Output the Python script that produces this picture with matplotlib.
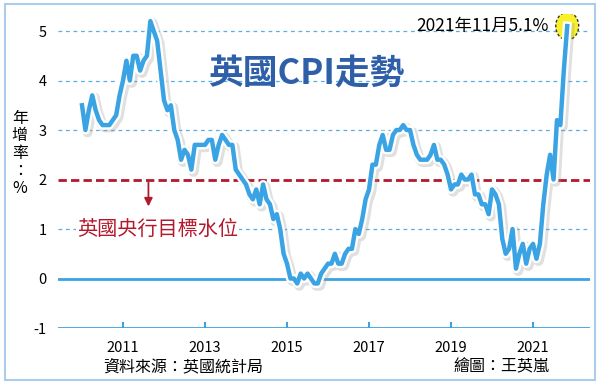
import matplotlib.pyplot as plt
import matplotlib.patheffects as pe
from matplotlib.patches import Circle, Rectangle
import numpy as np

plt.rcParams['font.family'] = ['Noto Sans CJK TC', 'DejaVu Sans']

# 英國CPI年增率（%），2010年1月至2021年11月，逐月
cpi_2010 = [3.5, 3.0, 3.4, 3.7, 3.4, 3.2, 3.1, 3.1, 3.1, 3.2, 3.3, 3.7]
cpi_2011 = [4.0, 4.4, 4.0, 4.5, 4.5, 4.2, 4.4, 4.5, 5.2, 5.0, 4.8, 4.2]
cpi_2012 = [3.6, 3.4, 3.5, 3.0, 2.8, 2.4, 2.6, 2.5, 2.2, 2.7, 2.7, 2.7]
cpi_2013 = [2.7, 2.8, 2.8, 2.4, 2.7, 2.9, 2.8, 2.7, 2.7, 2.2, 2.1, 2.0]
cpi_2014 = [1.9, 1.7, 1.6, 1.8, 1.5, 1.9, 1.6, 1.5, 1.2, 1.3, 1.0, 0.5]
cpi_2015 = [0.3, 0.0, 0.0, -0.1, 0.1, 0.0, 0.1, 0.0, -0.1, -0.1, 0.1, 0.2]
cpi_2016 = [0.3, 0.3, 0.5, 0.3, 0.3, 0.5, 0.6, 0.6, 1.0, 0.9, 1.2, 1.6]
cpi_2017 = [1.8, 2.3, 2.3, 2.7, 2.9, 2.6, 2.6, 2.9, 3.0, 3.0, 3.1, 3.0]
cpi_2018 = [3.0, 2.7, 2.5, 2.4, 2.4, 2.4, 2.5, 2.7, 2.4, 2.4, 2.3, 2.1]
cpi_2019 = [1.8, 1.9, 1.9, 2.1, 2.0, 2.0, 2.1, 1.7, 1.7, 1.5, 1.5, 1.3]
cpi_2020 = [1.8, 1.7, 1.5, 0.8, 0.5, 0.6, 1.0, 0.2, 0.5, 0.7, 0.3, 0.6]
cpi_2021 = [0.7, 0.4, 0.7, 1.5, 2.1, 2.5, 2.0, 3.2, 3.1, 4.2, 5.1]

cpi = (cpi_2010 + cpi_2011 + cpi_2012 + cpi_2013 + cpi_2014 + cpi_2015
       + cpi_2016 + cpi_2017 + cpi_2018 + cpi_2019 + cpi_2020 + cpi_2021)
start_year = 2010
x_ticks = [2011, 2013, 2015, 2017, 2019, 2021]
y_ticks = [-1, 0, 1, 2, 3, 4, 5]
target = 2

blue = '#3aa3e3'
grid_blue = '#5aaee0'
red = '#b3182d'

x = start_year + np.arange(len(cpi)) / 12.0

fig = plt.figure(figsize=(6, 3.84), dpi=100)
ax = fig.add_axes([0.0967, 0.1458, 0.8867, 0.8185])
ax.set_xlim(2009.415, 2022.39)
ax.set_ylim(-1, 5.35)

# 外框
fig.patches.append(Rectangle((0.008, 0.01), 0.984, 0.98, transform=fig.transFigure,
                             fill=False, edgecolor='#a9cdea', linewidth=1.5))

for s in ax.spines.values():
    s.set_visible(False)

# 格線
for yv in [1, 3, 4, 5]:
    ax.axhline(yv, color=grid_blue, linestyle=(0, (3, 3)), linewidth=0.9, zorder=1)
ax.axhline(0, color=blue, linewidth=2, zorder=1)
ax.axhline(-1, color=blue, linewidth=2, zorder=1)
ax.axhline(target, color=red, linestyle=(0, (3, 1.5)), linewidth=2, zorder=2)

for xt in x_ticks:
    ax.plot([xt, xt], [-1, -0.9], color=blue, linewidth=1.5, zorder=1)

ax.set_xticks(x_ticks)
ax.set_xticklabels([str(v) for v in x_ticks], fontsize=10.5)
ax.set_yticks(y_ticks)
ax.set_yticklabels([str(v) for v in y_ticks], fontsize=10.5)
ax.tick_params(length=0, pad=8)
ax.tick_params(axis='x', pad=9)

# CPI 折線
ax.plot(x, cpi, color=blue, linewidth=3.2, zorder=5, solid_joinstyle='round',
        path_effects=[pe.SimpleLineShadow(offset=(1.5, -1.5), shadow_color='#999999', alpha=0.3, linewidth=7.5),
                      pe.Stroke(linewidth=6.5, foreground='white'),
                      pe.Normal()])

# 最新值標記
ax.add_patch(Circle((x[-1], cpi[-1]), 0.28, transform=ax.transData, zorder=4,
                    facecolor='#f7f02a', edgecolor='#333333', linestyle=(0, (2, 1.5)), linewidth=1))
ax.text(x[-1] - 0.45, cpi[-1], '2021年11月5.1%', fontsize=12.5, ha='right', va='center',
        color='black', zorder=6)

# 標題
fig.text(0.51, 0.81, '英國CPI走勢', fontsize=25, color='#2f5fa8', ha='center', va='center',
         fontweight='bold')

# 目標水位
ax.annotate('', xy=(2011.62, 1.4), xytext=(2011.62, target),
            arrowprops=dict(arrowstyle='-|>', color=red, lw=1.3, mutation_scale=12))
ax.text(2009.88, 1.0, '英國央行目標水位', fontsize=14.5, color=red, ha='left', va='center',
        zorder=3, bbox=dict(facecolor='white', edgecolor='none', pad=0.5))

# y 軸說明
fig.text(0.033, 0.6, '年\n增\n率\n：\n%', fontsize=11.5, ha='center', va='center',
         linespacing=1.05)

fig.text(0.305, 0.045, '資料來源：英國統計局', fontsize=11.5, ha='center', va='center')
fig.text(0.835, 0.045, '繪圖：王英嵐', fontsize=11.5, ha='center', va='center')

fig.savefig('out.png', dpi=100)
